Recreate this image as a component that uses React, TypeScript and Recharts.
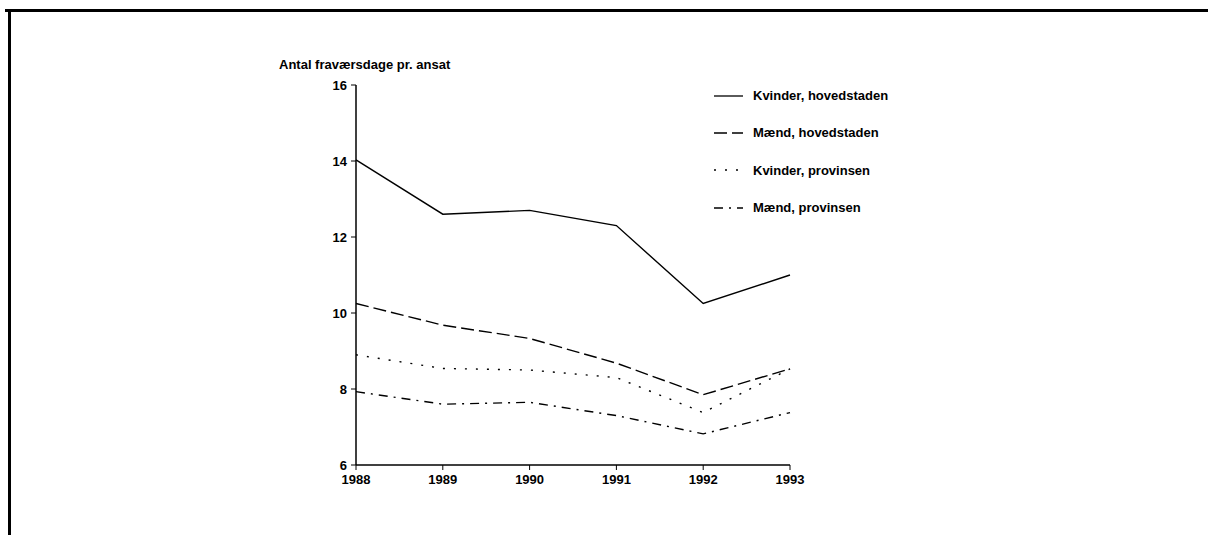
import React from "react";
import { LineChart, Line, XAxis, YAxis } from "recharts";

// ============================================
// Data
// ============================================

const YEARS = [1988, 1989, 1990, 1991, 1992, 1993];
const KVINDER_HOVEDSTADEN = [14.03, 12.6, 12.7, 12.3, 10.25, 11.0];
const MAEND_HOVEDSTADEN = [10.25, 9.68, 9.33, 8.68, 7.85, 8.53];
const KVINDER_PROVINSEN = [8.9, 8.54, 8.5, 8.3, 7.38, 8.53];
const MAEND_PROVINSEN = [7.93, 7.6, 7.65, 7.3, 6.82, 7.38];
const Y_TICKS = [6, 8, 10, 12, 14, 16];

const SERIES = [
  { key: "kh", name: "Kvinder, hovedstaden", values: KVINDER_HOVEDSTADEN, dash: undefined },
  { key: "mh", name: "Mænd, hovedstaden", values: MAEND_HOVEDSTADEN, dash: "13 5" },
  { key: "kp", name: "Kvinder, provinsen", values: KVINDER_PROVINSEN, dash: "2 9" },
  { key: "mp", name: "Mænd, provinsen", values: MAEND_PROVINSEN, dash: "9 6 2 6" },
];

const data = YEARS.map((year, i) => {
  const row: Record<string, number> = { year };
  SERIES.forEach((s) => {
    row[s.key] = s.values[i];
  });
  return row;
});

// ============================================
// Shared styles
// ============================================

const FONT = "'Liberation Sans', Arial, Helvetica, sans-serif";
const TICK = { fill: "#000", fontSize: 13, fontWeight: 700, fontFamily: FONT };
const TEXT = { fontFamily: FONT, fontSize: 13, fontWeight: 700, color: "#000", whiteSpace: "nowrap" as const };

function SeriesLegend() {
  return (
    <div style={{ position: "absolute", left: 714, top: 77, ...TEXT }}>
      {SERIES.map((s) => (
        <div key={s.key} style={{ display: "flex", alignItems: "center", height: 37.3 }}>
          <svg width={29} height={6} style={{ marginRight: 10 }}>
            <line x1={0} y1={3} x2={29} y2={3} stroke="#000" strokeWidth={1.3} strokeDasharray={s.dash} />
          </svg>
          <span>{s.name}</span>
        </div>
      ))}
    </div>
  );
}

export default function App() {
  return (
    <div style={{ position: "absolute", left: 0, top: 0, width: 1208, height: 535, background: "#fff", overflow: "hidden" }}>
      {/* frame lines of the scanned figure */}
      <div style={{ position: "absolute", left: 5, top: 9, width: 1203, height: 3, background: "#000" }} />
      <div style={{ position: "absolute", left: 8, top: 9, width: 3, height: 526, background: "#000" }} />
      <div style={{ position: "absolute", left: 279, top: 57, ...TEXT }}>Antal fraværsdage pr. ansat</div>
      <LineChart
        width={1208}
        height={535}
        data={data}
        margin={{ top: 85, right: 418, bottom: 40, left: 296 }}
        style={{ position: "absolute", left: 0, top: 0 }}
      >
        <XAxis
          dataKey="year"
          type="number"
          domain={[1988, 1993]}
          ticks={YEARS}
          height={30}
          tick={TICK}
          tickSize={5}
          tickMargin={5}
          axisLine={{ stroke: "#000", strokeWidth: 1.5 }}
          tickLine={{ stroke: "#000" }}
        />
        <YAxis
          domain={[6, 16]}
          ticks={Y_TICKS}
          width={60}
          tick={TICK}
          tickSize={5}
          tickMargin={4}
          axisLine={{ stroke: "#000", strokeWidth: 1.5 }}
          tickLine={{ stroke: "#000" }}
        />
        {SERIES.map((s) => (
          <Line
            key={s.key}
            dataKey={s.key}
            name={s.name}
            type="linear"
            stroke="#000"
            strokeWidth={1.4}
            strokeDasharray={s.dash}
            dot={false}
            isAnimationActive={false}
          />
        ))}
      </LineChart>
      <SeriesLegend />
    </div>
  );
}
